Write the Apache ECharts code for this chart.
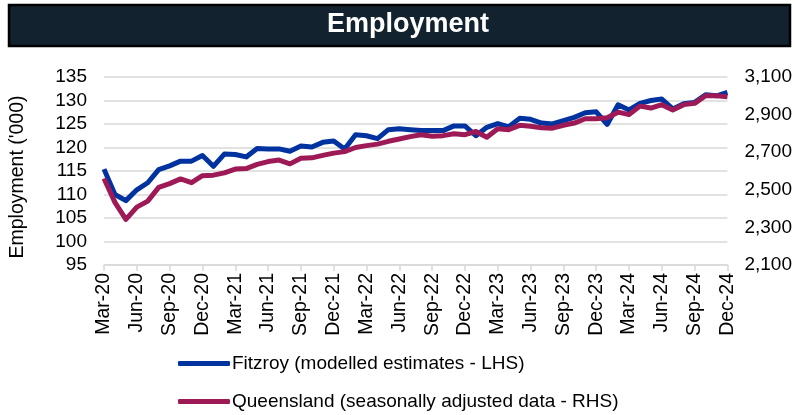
<!DOCTYPE html>
<html><head><meta charset="utf-8">
<script src="https://cdn.jsdelivr.net/npm/echarts@6/dist/echarts.min.js"></script>
<style>html,body{margin:0;padding:0;background:#fff}#c{width:795px;height:415px}</style>
</head><body><div id="c"></div>
<script>
const categories = (function(){
  const m=['Jan','Feb','Mar','Apr','May','Jun','Jul','Aug','Sep','Oct','Nov','Dec'];
  const out=[]; let y=20, mi=2;
  while(!(y===25 && mi===0)){ out.push(m[mi]+'-'+y); mi++; if(mi===12){mi=0;y++;} }
  return out;
})();
const fitzroy = [115.4,110.0,108.7,111.0,112.5,115.3,116.1,117.1,117.1,118.3,116.0,118.6,118.5,118.0,119.8,119.7,119.7,119.2,120.3,120.1,
  121.1,121.4,119.7,122.7,122.5,121.9,123.8,124.0,123.8,123.6,123.6,123.6,124.6,124.6,122.5,124.3,125.1,124.4,126.2,126.0,
  125.2,125.0,125.7,126.4,127.4,127.6,124.9,129.1,128.0,129.4,130.0,130.3,128.2,129.3,129.6,131.2,131.0,131.7];
const queensland = [2560,2433,2343,2408,2440,2513,2533,2558,2538,2575,2578,2590,2610,2613,2635,2650,2658,2638,2668,2670,
  2683,2695,2703,2725,2735,2743,2758,2770,2783,2793,2785,2788,2798,2793,2810,2780,2825,2820,2843,2838,
  2830,2828,2843,2855,2878,2878,2883,2913,2900,2945,2935,2953,2925,2953,2960,3000,3000,2995];
const leftTicks = {min:95, max:135, step:5};
const rightTicks = {min:2100, max:3100, step:200};
const seriesNames = ['Fitzroy (modelled estimates - LHS)','Queensland (seasonally adjusted data - RHS)'];

const chart = echarts.init(document.getElementById('c'), null, {renderer:'canvas'});
const font = 'Liberation Sans, Arial, sans-serif';
const legendCommon = {left:173, itemWidth:52, itemHeight:5, icon:'roundRect',
  textStyle:{fontSize:19, color:'#000', fontFamily:font, padding:[0,0,0,-3]}};
chart.setOption({
  animation:false,
  textStyle:{fontFamily:font},
  graphic:[
    {type:'rect', shape:{x:9,y:5,width:781,height:41}, style:{fill:'#12232f', stroke:'#000', lineWidth:2.5}, z:0},
    {type:'text', x:408, y:25, style:{text:'Employment', fill:'#fff', font:'bold 27px '+font, textAlign:'center', textVerticalAlign:'middle'}}
  ],
  grid:{left:104, right:66, top:77, bottom:150, containLabel:false},
  legend:[
    Object.assign({top:349, data:[seriesNames[0]]}, legendCommon),
    Object.assign({top:387, data:[seriesNames[1]]}, legendCommon)
  ],
  xAxis:{
    type:'category', data:categories, boundaryGap:false,
    axisLine:{lineStyle:{color:'#d9d9d9', width:1.5}},
    axisTick:{interval:2, length:6, lineStyle:{color:'#d9d9d9', width:1.5}},
    axisLabel:{interval:2, rotate:90, fontSize:19.5, color:'#000', margin:8, fontFamily:font}
  },
  yAxis:[
    {type:'value', min:leftTicks.min, max:leftTicks.max, interval:leftTicks.step,
     name:"Employment ('000)", nameLocation:'middle', nameGap:76, nameRotate:90,
     nameTextStyle:{fontSize:19.5, color:'#000', fontFamily:font, padding:[0,0,0,-12]},
     axisLine:{show:false}, axisTick:{show:false},
     axisLabel:{fontSize:19, color:'#000', margin:17, fontFamily:font},
     splitLine:{lineStyle:{color:'#d9d9d9', width:1.5}}},
    {type:'value', min:rightTicks.min, max:rightTicks.max, interval:rightTicks.step/2,
     axisLine:{show:false}, axisTick:{show:false}, splitLine:{show:false},
     axisLabel:{fontSize:19, color:'#000', margin:17, fontFamily:font,
       formatter:function(v){ if ((v-rightTicks.min)%rightTicks.step!==0) return ''; return v.toLocaleString('en-US'); }}}
  ],
  series:[
    {name:seriesNames[0], type:'line', yAxisIndex:0, data:fitzroy, symbol:'none',
     lineStyle:{color:'#0033a0', width:5, join:'round'}, itemStyle:{color:'#0033a0'}},
    {name:seriesNames[1], type:'line', yAxisIndex:1, data:queensland, symbol:'none',
     lineStyle:{color:'#9e1a57', width:5, join:'round'}, itemStyle:{color:'#9e1a57'}}
  ]
});
</script></body></html>
